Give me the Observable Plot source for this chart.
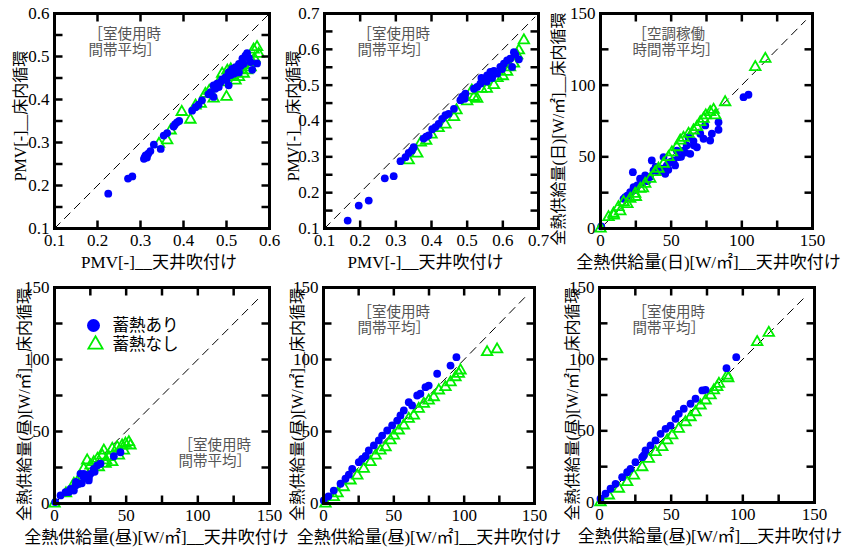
<!DOCTYPE html>
<html><head><meta charset="utf-8">
<script src="https://cdn.jsdelivr.net/npm/d3@7"></script>
<script src="https://cdn.jsdelivr.net/npm/@observablehq/plot@0.6"></script>
<style>
body{margin:0;background:#fff;}
#wrap{width:855px;height:551px;overflow:hidden;background:#fff;}
.row{display:flex;flex-direction:row;align-items:flex-start;width:855px;}
.row > svg{flex:none;}
</style></head><body><div id="wrap"><div class="row" id="row1" style="height:273px"></div><div class="row" id="row2" style="height:278px"></div></div>
<script>
// ---------- data ----------
const seriesNames = ["蓄熱あり", "蓄熱なし"];
const noteRoom = "［室使用時\n間帯平均］";
const noteAC = "［空調稼働\n時間帯平均］";

const pmvTicks1 = [0.1,0.15,0.2,0.25,0.3,0.35,0.4,0.45,0.5,0.55,0.6];
const pmvTicksX1 = [0.1,0.2,0.3,0.4,0.5,0.6];
const pmvTicks2 = [0.1,0.15,0.2,0.25,0.3,0.35,0.4,0.45,0.5,0.55,0.6,0.65,0.7];
const pmvTicksX2 = [0.1,0.2,0.3,0.4,0.5,0.6,0.7];
const heatTicks = [0,25,50,75,100,125,150];
const heatLabels = [0,50,100,150];

const diag1 = [0.1, 0.6];
const diag2 = [0.1, 0.69];
const diag3 = [3, 145];
const diag4 = [0, 142];
const diag5 = [0, 143];
const diag6 = [0, 145];

// panel 1: PMV 室使用時間帯平均
const p1Ari = [[0.225,0.181],[0.271,0.216],[0.281,0.221],[0.308,0.262],[0.310,0.266],[0.312,0.270],[0.318,0.274],[0.323,0.280],[0.315,0.265],[0.331,0.295],[0.347,0.285],[0.354,0.316],[0.362,0.322],[0.377,0.337],[0.380,0.342],[0.385,0.347],[0.390,0.350],[0.420,0.374],[0.428,0.382],[0.435,0.388],[0.443,0.398],[0.458,0.412],[0.463,0.417],[0.470,0.433],[0.474,0.425],[0.482,0.429],[0.486,0.440],[0.505,0.433],[0.490,0.447],[0.498,0.452],[0.505,0.463],[0.510,0.457],[0.513,0.471],[0.517,0.460],[0.521,0.475],[0.525,0.468],[0.529,0.483],[0.529,0.463],[0.533,0.478],[0.537,0.495],[0.540,0.483],[0.544,0.502],[0.548,0.508],[0.552,0.497],[0.556,0.487],[0.560,0.469],[0.571,0.484],[0.500,0.445],[0.478,0.437],[0.470,0.406]];
const p1Nashi = [[0.343,0.297],[0.362,0.305],[0.370,0.328],[0.396,0.371],[0.416,0.353],[0.428,0.386],[0.451,0.413],[0.470,0.402],[0.482,0.440],[0.490,0.460],[0.500,0.406],[0.502,0.467],[0.505,0.452],[0.515,0.455],[0.521,0.444],[0.529,0.452],[0.535,0.470],[0.540,0.460],[0.548,0.468],[0.552,0.480],[0.556,0.475],[0.560,0.487],[0.565,0.495],[0.571,0.522],[0.575,0.506],[0.563,0.516],[0.510,0.470],[0.460,0.420],[0.440,0.390]];

// panel 2: PMV 室使用時間帯平均
const p2Ari = [[0.165,0.122],[0.196,0.164],[0.224,0.178],[0.269,0.240],[0.294,0.246],[0.313,0.288],[0.327,0.299],[0.336,0.311],[0.345,0.318],[0.350,0.327],[0.378,0.351],[0.385,0.356],[0.392,0.360],[0.402,0.377],[0.411,0.383],[0.420,0.392],[0.430,0.406],[0.439,0.416],[0.448,0.420],[0.463,0.434],[0.481,0.458],[0.486,0.467],[0.490,0.470],[0.495,0.476],[0.493,0.462],[0.519,0.490],[0.528,0.495],[0.537,0.504],[0.547,0.518],[0.556,0.527],[0.565,0.537],[0.570,0.520],[0.575,0.540],[0.584,0.532],[0.593,0.551],[0.598,0.545],[0.603,0.560],[0.612,0.569],[0.621,0.574],[0.626,0.551],[0.631,0.592],[0.635,0.585],[0.645,0.572],[0.540,0.520],[0.555,0.510]];
const p2Nashi = [[0.336,0.290],[0.360,0.309],[0.370,0.340],[0.385,0.345],[0.400,0.362],[0.420,0.380],[0.439,0.390],[0.463,0.411],[0.470,0.430],[0.500,0.455],[0.519,0.467],[0.528,0.462],[0.540,0.490],[0.555,0.490],[0.575,0.500],[0.585,0.520],[0.600,0.525],[0.612,0.537],[0.620,0.550],[0.631,0.560],[0.640,0.583],[0.645,0.597],[0.659,0.625],[0.550,0.510],[0.513,0.485]];

// panel 3: 全熱供給量(日) 空調稼働時間帯平均
const p3Ari = [[0.5,1.5],[16.3,20.7],[17.5,21.8],[21,25.3],[23.4,28.8],[22.9,39.3],[28,34.7],[29.3,31.2],[31.6,37],[33,33],[36.3,47.5],[37.5,40.5],[41,39.3],[43.4,41.7],[44.6,49.8],[45.8,38.2],[47,44],[49.3,46.3],[51.7,47.5],[52.8,44],[55.2,49.8],[54,54.4],[58.7,54.4],[61,57.9],[62.3,63.7],[63.5,52.1],[65.8,61],[68.2,56.7],[70.6,66.1],[72.9,62.6],[74.1,71.9],[77.6,61.4],[78.8,66.1],[83.5,74.2],[83.5,68.9],[101.2,91.6],[104.7,93.3],[26,30],[35,36],[39,43],[48,41],[57,50],[60,53],[66,58],[25,27],[19,23]];
const p3Nashi = [[0,0],[5.7,7.9],[9.2,10.3],[12.7,14.9],[16.3,18.4],[21,20.7],[24.5,24.2],[28.1,27.7],[31.6,31.2],[35.2,34.7],[38.7,39.3],[41,41.7],[44.6,45.1],[48.1,49.8],[50.5,53.2],[54,56.7],[56.4,61.4],[58.7,63.3],[62.3,66.1],[65.8,68.4],[68.2,70.7],[70.6,74.2],[72.9,76.5],[74.5,78.9],[77.6,81.2],[80,82.8],[81.2,78.9],[88.2,88.1],[109.5,112.6],[116.6,118.4],[9.4,9.1],[14,12],[19,17],[25,22],[30,28]];

// panel 4: 全熱供給量(昼)
const p4Ari = [[0.5,1],[4.2,5.6],[7.7,7.8],[11.2,10.2],[13.5,9],[14.7,12.5],[17,13.7],[18.1,20.6],[20.4,18.3],[20.4,20.6],[22.8,19.4],[23.9,16],[25.1,20.6],[27.4,24.1],[28,22],[29.8,26.4],[32.1,27.6],[41.4,32.8],[46,35.6],[10,8],[15,15],[19,14],[24,18]];
const p4Nashi = [[0,0],[13.5,13.7],[20.4,24.1],[25.1,26.4],[22.8,29.9],[27.4,28.7],[30.9,25.2],[33.3,33.3],[34.4,36.8],[35.6,27.6],[37.9,32.2],[40.3,38],[40.3,28.7],[43.8,39.1],[44.9,33.3],[47.2,40.3],[48.4,36.8],[49.5,41.5],[51.9,42.6],[53,40.3],[8,7],[16,15],[30,31],[36,30]];

// panel 5: 全熱供給量(昼)
const p5Ari = [[0.2,2.1],[3.5,5],[7.3,9],[12.1,13.7],[15.6,17.2],[18,20],[20.4,24.1],[25.1,28.7],[27.5,31],[30,33],[32.2,36.8],[35.8,40.3],[39.3,43.8],[41.7,47.2],[45.3,50.7],[48.8,54.2],[52.4,57.6],[54.7,61.1],[57.1,64.6],[60.6,70.3],[63,68.1],[66.6,75],[68.9,76.2],[72.5,80.8],[74.8,81.9],[80.8,90.1],[90.3,95.8],[94.5,101.6]];
const p5Nashi = [[1.4,0],[7.3,4.4],[10,7],[14.4,11.3],[19.2,16],[24,19.4],[28.6,24.1],[33.4,28.7],[37,33.3],[40.5,36.8],[44.1,39.1],[47.6,43.8],[50,47.2],[53.5,50.7],[57.1,54.2],[60.6,58.8],[64.2,61.1],[67.7,65.8],[71.3,69.2],[74.8,71.5],[78.4,73.8],[82,78.5],[86.7,80.8],[90.3,84.2],[93.8,87.7],[96.2,90.1],[97.4,92.4],[116.3,105.1],[123.4,107]];

// panel 6: 全熱供給量(昼)
const p6Ari = [[0.7,2.6],[4.2,6.1],[7.7,9.6],[11.2,13],[15.8,17.7],[19.3,21.1],[21.6,23.5],[25.1,28.1],[29.8,31.6],[30.9,32.8],[32.1,36.3],[35.6,39.8],[39.1,43.3],[42.6,47.9],[46.1,51.4],[49.5,53.7],[53,58.4],[55.3,61.9],[58.8,65.4],[63.5,68.9],[67,72.4],[71.7,78.2],[74,78.6],[88.6,93.7],[95.4,101.4]];
const p6Nashi = [[0.7,0.2],[6.5,4.9],[13.5,9.6],[19.3,14.2],[24,18.8],[29.8,24.6],[34.4,30.5],[39.1,35.1],[43.8,38.6],[47.2,43.3],[50.7,46.8],[55.3,51.4],[60,56],[63.5,59.5],[67,63],[70.5,67.7],[74,71.2],[77.5,74.7],[79.8,78.2],[82.1,80.5],[83.3,82.8],[89.1,88.6],[89.8,86.7],[110,111.9],[118.1,118.4]];

const xTitlePMV = "PMV[-]__天井吹付け";
const yTitlePMV = "PMV[-]__床内循環";
const xTitleDay = "全熱供給量(日)[W/㎡]__天井吹付け";
const yTitleDay = "全熱供給量(日)[W/㎡]__床内循環";
const xTitleNoon = "全熱供給量(昼)[W/㎡]__天井吹付け";
const yTitleNoon = "全熱供給量(昼)[W/㎡]__床内循環";

// ---------- drawing ----------
const BLUE = "#0000ff", GREEN = "#00ee00";
const SERIF = "'Liberation Serif','Times New Roman',serif";
const JP = "'Liberation Serif','Noto Sans CJK JP',sans-serif";
const GOTHIC = "'Noto Sans CJK JP',sans-serif";
const TICK = 8;

function panel(c) {
  const [d0, d1] = c.dom;
  const lx = TICK * (d1 - d0) / c.fw;   // tick length in x data units
  const ly = TICK * (d1 - d0) / c.fh;   // tick length in y data units
  const tk = {stroke: "black", strokeWidth: 2.5};
  const nashi = Plot.dot(c.nashi, {x: d => d[0], y: d => d[1], symbol: "triangle", r: 3.9, stroke: GREEN, strokeWidth: 1.8, fill: "none"});
  const ari = Plot.dot(c.ari, {x: d => d[0], y: d => d[1], r: 3.9, fill: BLUE});
  const marks = [
    Plot.line(c.diag, {x: d => d, y: d => d, stroke: "#000", strokeWidth: 1, strokeDasharray: "8,6"})
  ];
  if (c.blueFirst) marks.push(ari, nashi); else marks.push(nashi, ari);
  marks.push(
    Plot.frame({stroke: "#000", strokeWidth: 3}),
    // inward ticks on all four sides
    Plot.link(c.xTicks, {x1: d => d, x2: d => d, y1: () => d0, y2: () => d0 + ly, ...tk}),
    Plot.link(c.xTicks, {x1: d => d, x2: d => d, y1: () => d1, y2: () => d1 - ly, ...tk}),
    Plot.link(c.yTicks, {y1: d => d, y2: d => d, x1: () => d0, x2: () => d0 + lx, ...tk}),
    Plot.link(c.yTicks, {y1: d => d, y2: d => d, x1: () => d1, x2: () => d1 - lx, ...tk}),
    Plot.axisX({ticks: c.xLabels, anchor: "bottom", tickSize: 0, tickPadding: 5, tickFormat: c.fmt, label: null, fontSize: 17}),
    Plot.axisY({ticks: c.yLabels, anchor: "left", tickSize: 0, tickPadding: 5, tickFormat: c.fmt, label: null, fontSize: 17}),
    Plot.text([c.xTitle], {frameAnchor: "bottom", dx: c.xdx, dy: 34, text: d => d, textAnchor: "middle", lineAnchor: "middle", fontFamily: JP, fontSize: 17, fill: "#000"}),
    Plot.text([c.yTitle], {frameAnchor: "left", rotate: -90, dx: c.ydx, dy: c.ydy, text: d => d, textAnchor: "middle", lineAnchor: "middle", fontFamily: JP, fontSize: 16, fill: "#000"}),
    Plot.text([c.note], {frameAnchor: "top-left", dx: c.ndx, dy: c.ndy, text: d => d, textAnchor: "start", lineAnchor: "top", lineHeight: 1.12, fill: "#555", fontFamily: GOTHIC, fontSize: 14.5})
  );
  if (c.extra) marks.push(...c.extra);
  const svg = Plot.plot({
    width: c.ml + c.fw + c.mr, height: c.mt + c.fh + c.mb,
    marginLeft: c.ml, marginTop: c.mt, marginRight: c.mr, marginBottom: c.mb,
    x: {domain: c.dom, label: null},
    y: {domain: c.dom, label: null},
    style: {fontFamily: SERIF, fontSize: "17px"},
    marks
  });
  document.getElementById(c.row).appendChild(svg);
}

const fmtPMV = d => d.toFixed(1);
const fmtHeat = d => String(d);

// row 1 (frames at x 54 / 324 / 600, top 13)
panel({row: "row1", ml: 54, mr: 16, mt: 13, mb: 45, fw: 215, fh: 215, dom: [0.1, 0.6], diag: diag1, ari: p1Ari, nashi: p1Nashi,
  xTicks: pmvTicksX1, yTicks: pmvTicks1, xLabels: pmvTicksX1, yLabels: pmvTicksX1, fmt: fmtPMV,
  xTitle: xTitlePMV, yTitle: yTitlePMV, xdx: -3, ydx: -34, ydy: -5, note: noteRoom, ndx: 34, ndy: 14});
panel({row: "row1", ml: 39, mr: 11, mt: 13, mb: 45, fw: 214, fh: 215, dom: [0.1, 0.7], diag: diag2, ari: p2Ari, nashi: p2Nashi,
  xTicks: pmvTicksX2, yTicks: pmvTicks2, xLabels: pmvTicksX2, yLabels: pmvTicksX2, fmt: fmtPMV,
  xTitle: xTitlePMV, yTitle: yTitlePMV, xdx: -6, ydx: -31, ydy: -5, note: noteRoom, ndx: 33, ndy: 14});
panel({row: "row1", ml: 51, mr: 43, mt: 13, mb: 45, fw: 212, fh: 215, dom: [0, 150], diag: diag3, ari: p3Ari, nashi: p3Nashi, blueFirst: true,
  xTicks: heatTicks, yTicks: heatTicks, xLabels: heatLabels, yLabels: heatLabels, fmt: fmtHeat,
  xTitle: xTitleDay, yTitle: yTitleDay, xdx: 2, ydx: -42, ydy: 8, note: noteAC, ndx: 32, ndy: 14});

// row 2 (frames at x 54 / 323 / 599, top 287)
panel({row: "row2", ml: 54, mr: 20, mt: 14, mb: 48, fw: 215, fh: 216, dom: [0, 150], diag: diag4, ari: p4Ari, nashi: p4Nashi,
  xTicks: heatTicks, yTicks: heatTicks, xLabels: heatLabels, yLabels: heatLabels, fmt: fmtHeat,
  xTitle: xTitleNoon, yTitle: yTitleNoon, xdx: -5.5, ydx: -30, ydy: 9, note: noteRoom, ndx: 124, ndy: 151,
  extra: [
    Plot.dot([seriesNames[0]], {frameAnchor: "top-left", dx: 39, dy: 38, r: 6.5, fill: BLUE}),
    Plot.dot([seriesNames[1]], {frameAnchor: "top-left", dx: 41, dy: 57, r: 5.3, symbol: "triangle", stroke: GREEN, strokeWidth: 1.8, fill: "none"}),
    Plot.text([seriesNames[0]], {frameAnchor: "top-left", dx: 58, dy: 38, text: d => d, textAnchor: "start", lineAnchor: "middle", fontFamily: GOTHIC, fontSize: 16.5, fill: "#000"}),
    Plot.text([seriesNames[1]], {frameAnchor: "top-left", dx: 58, dy: 57, text: d => d, textAnchor: "start", lineAnchor: "middle", fontFamily: GOTHIC, fontSize: 16.5, fill: "#000"})
  ]});
panel({row: "row2", ml: 34, mr: 29, mt: 14, mb: 48, fw: 211, fh: 216, dom: [0, 150], diag: diag5, ari: p5Ari, nashi: p5Nashi,
  xTicks: heatTicks, yTicks: heatTicks, xLabels: heatLabels, yLabels: heatLabels, fmt: fmtHeat,
  xTitle: xTitleNoon, yTitle: yTitleNoon, xdx: 0, ydx: -26, ydy: 9, note: noteRoom, ndx: 34, ndy: 18});
panel({row: "row2", ml: 36, mr: 41, mt: 14, mb: 49, fw: 215, fh: 215, dom: [0, 150], diag: diag6, ari: p6Ari, nashi: p6Nashi,
  xTicks: heatTicks, yTicks: heatTicks, xLabels: heatLabels, yLabels: heatLabels, fmt: fmtHeat,
  xTitle: xTitleNoon, yTitle: yTitleNoon, xdx: 3, ydx: -27, ydy: 9, note: noteRoom, ndx: 33, ndy: 18});
</script></body></html>
